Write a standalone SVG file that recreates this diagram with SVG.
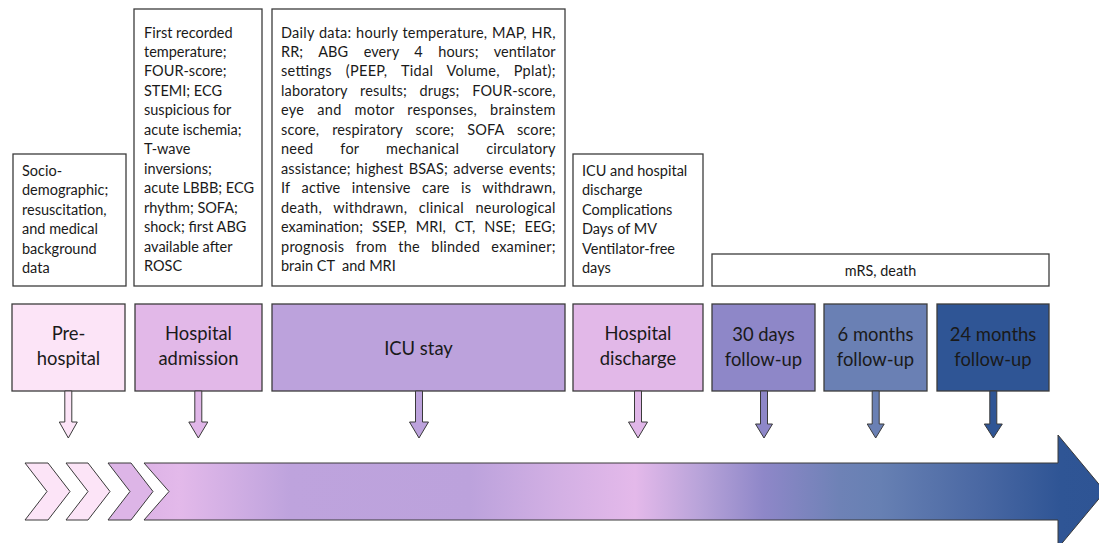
<svg xmlns="http://www.w3.org/2000/svg" width="1099" height="543" viewBox="0 0 1099 543">
<defs>
<style>
.tb{fill:#ffffff;stroke:#3c3c3c;stroke-width:1.3}
.ph{stroke:#3c3c3c;stroke-width:1.3}
.t{font-family:Lato,"Liberation Sans",Arial,sans-serif;font-size:14.5px;fill:#1a1a1a}
.lb{font-family:Lato,"Liberation Sans",Arial,sans-serif;font-size:18.4px;fill:#1a1a1a;text-anchor:middle}
.ar{stroke:#3a3a3a;stroke-width:1}
.tl{stroke:#3a3a3a;stroke-width:1}
</style>
<linearGradient id="tlg" gradientUnits="userSpaceOnUse" x1="144" y1="0" x2="1105" y2="0">
<stop offset="0" stop-color="#DDB3E6"/>
<stop offset="0.037" stop-color="#E3B9EA"/>
<stop offset="0.152" stop-color="#BEA3DD"/>
<stop offset="0.339" stop-color="#BCA2DC"/>
<stop offset="0.433" stop-color="#D3B0E4"/>
<stop offset="0.511" stop-color="#E4B9EA"/>
<stop offset="0.579" stop-color="#B8A3D9"/>
<stop offset="0.645" stop-color="#8E87C8"/>
<stop offset="0.724" stop-color="#6E82B6"/>
<stop offset="0.766" stop-color="#6780B3"/>
<stop offset="0.870" stop-color="#4A68A3"/>
<stop offset="0.953" stop-color="#2F5595"/>
<stop offset="1" stop-color="#2E5494"/>
</linearGradient>
</defs>

<!-- timeline -->
<g id="timeline">
<polygon class="tl" fill="#FCE4F7" points="25,463 48,463 70,491.5 48,520 25,520 47,491.5"/>
<polygon class="tl" fill="#FCE4F7" points="66,463 88,463 110,491.5 88,520 66,520 88,491.5"/>
<polygon class="tl" fill="#DDB5E7" points="108,463 131,463 153,491.5 131,520 108,520 130,491.5"/>
<polygon class="tl" fill="url(#tlg)" points="144,463 1058,463 1058,435 1105,491.5 1058,548 1058,520 144,520 169,491.5"/>
</g>

<!-- data boxes -->
<g id="box-socio">
<rect class="tb" x="13" y="154" width="113" height="132"/>
<text class="t"><tspan x="22" y="176">Socio-</tspan><tspan x="22" y="195.4">demographic;</tspan><tspan x="22" y="214.8">resuscitation,</tspan><tspan x="22" y="234.2">and medical</tspan><tspan x="22" y="253.6">background</tspan><tspan x="22" y="273">data</tspan></text>
</g>
<g id="box-admission-data">
<rect class="tb" x="134" y="9" width="128" height="277"/>
<text class="t"><tspan x="144" y="37.5">First recorded</tspan><tspan x="144" y="57">temperature;</tspan><tspan x="144" y="76.4">FOUR-score;</tspan><tspan x="144" y="95.9">STEMI; ECG</tspan><tspan x="144" y="115.3">suspicious for</tspan><tspan x="144" y="134.8">acute ischemia;</tspan><tspan x="144" y="154.3">T-wave</tspan><tspan x="144" y="173.7">inversions;</tspan><tspan x="144" y="193.2">acute LBBB; ECG</tspan><tspan x="144" y="212.6">rhythm; SOFA;</tspan><tspan x="144" y="232.1">shock; first ABG</tspan><tspan x="144" y="251.6">available after</tspan><tspan x="144" y="271">ROSC</tspan></text>
</g>
<g id="box-icu-data">
<rect class="tb" x="272" y="9" width="293" height="277"/>
<g class="t">
<text x="281" y="37.5" textLength="274.5" lengthAdjust="spacing" style="word-spacing:0.7px">Daily data: hourly temperature, MAP, HR,</text>
<text x="281" y="57" textLength="274.5" lengthAdjust="spacing" style="word-spacing:11.6px">RR; ABG every 4 hours; ventilator</text>
<text x="281" y="76.4" textLength="274.5" lengthAdjust="spacing" style="word-spacing:10px">settings (PEEP, Tidal Volume, Pplat);</text>
<text x="281" y="95.9" textLength="274.5" lengthAdjust="spacing" style="word-spacing:8.9px">laboratory results; drugs; FOUR-score,</text>
<text x="281" y="115.3" textLength="274.5" lengthAdjust="spacing" style="word-spacing:9px">eye and motor responses, brainstem</text>
<text x="281" y="134.8" textLength="274.5" lengthAdjust="spacing" style="word-spacing:9px">score, respiratory score; SOFA score;</text>
<text x="281" y="154.3" textLength="274.5" lengthAdjust="spacing" style="word-spacing:23px">need for mechanical circulatory</text>
<text x="281" y="173.7" textLength="274.5" lengthAdjust="spacing" style="word-spacing:1.6px">assistance; highest BSAS; adverse events;</text>
<text x="281" y="193.2" textLength="274.5" lengthAdjust="spacing" style="word-spacing:7.5px">If active intensive care is withdrawn,</text>
<text x="281" y="212.6" textLength="274.5" lengthAdjust="spacing" style="word-spacing:7.7px">death, withdrawn, clinical neurological</text>
<text x="281" y="232.1" textLength="274.5" lengthAdjust="spacing" style="word-spacing:5.2px">examination; SSEP, MRI, CT, NSE; EEG;</text>
<text x="281" y="251.6" textLength="274.5" lengthAdjust="spacing" style="word-spacing:7.4px">prognosis from the blinded examiner;</text>
<text x="281" y="271" xml:space="preserve">brain CT  and MRI</text>
</g>
</g>
<g id="box-discharge-data">
<rect class="tb" x="573" y="154" width="130" height="132"/>
<text class="t"><tspan x="582" y="176">ICU and hospital</tspan><tspan x="582" y="195.4">discharge</tspan><tspan x="582" y="214.8">Complications</tspan><tspan x="582" y="234.2">Days of MV</tspan><tspan x="582" y="253.6">Ventilator-free</tspan><tspan x="582" y="273">days</tspan></text>
</g>
<g id="box-followup-data">
<rect class="tb" x="712" y="254" width="337" height="32"/>
<text class="t" x="880.5" y="275.5" text-anchor="middle" style="font-size:14.4px">mRS, death</text>
</g>

<!-- phase boxes -->
<g id="phase-prehospital">
<rect class="ph" x="12" y="304" width="113" height="87" fill="#FCE4F7"/>
<text class="lb"><tspan x="68.5" y="340">Pre-</tspan><tspan x="68.5" y="365">hospital</tspan></text>
</g>
<g id="phase-admission">
<rect class="ph" x="135" y="304" width="127" height="87" fill="#E2B8E8"/>
<text class="lb"><tspan x="198.5" y="340">Hospital</tspan><tspan x="198.5" y="365">admission</tspan></text>
</g>
<g id="phase-icu">
<rect class="ph" x="272" y="304" width="293" height="87" fill="#BCA2DC"/>
<text class="lb" x="418.5" y="355">ICU stay</text>
</g>
<g id="phase-discharge">
<rect class="ph" x="573" y="304" width="130" height="87" fill="#E2B8E8"/>
<text class="lb"><tspan x="638" y="340">Hospital</tspan><tspan x="638" y="365">discharge</tspan></text>
</g>
<g id="phase-30days">
<rect class="ph" x="712" y="304" width="103" height="87" fill="#8E87C8"/>
<text class="lb"><tspan x="763.5" y="341">30 days</tspan><tspan x="763.5" y="366">follow-up</tspan></text>
</g>
<g id="phase-6months">
<rect class="ph" x="824" y="304" width="103" height="87" fill="#6A80B4"/>
<text class="lb"><tspan x="875.5" y="341">6 months</tspan><tspan x="875.5" y="366">follow-up</tspan></text>
</g>
<g id="phase-24months">
<rect class="ph" x="937" y="304" width="112" height="87" fill="#2F5595"/>
<text class="lb"><tspan x="993" y="341">24 months</tspan><tspan x="993" y="366">follow-up</tspan></text>
</g>

<!-- connectors -->
<g id="connectors">
<polygon class="ar" fill="#FCE4F7" points="64.8,391 71.8,391 71.8,422 77.3,422 68.3,438 59.3,422 64.8,422"/>
<polygon class="ar" fill="#E0B6E8" points="194.8,391 201.8,391 201.8,422 207.8,422 198.3,438 188.8,422 194.8,422"/>
<polygon class="ar" fill="#BCA2DC" points="415.5,391 422.5,391 422.5,422 428.5,422 419,438 409.5,422 415.5,422"/>
<polygon class="ar" fill="#E0B6E8" points="634.5,391 641.5,391 641.5,422 647.5,422 638,438 628.5,422 634.5,422"/>
<polygon class="ar" fill="#8E87C8" points="760.5,391 767.5,391 767.5,424 772.5,424 764,438 755.5,424 760.5,424"/>
<polygon class="ar" fill="#6A80B4" points="872.2,391 879.2,391 879.2,424 884.2,424 875.7,438 867.2,424 872.2,424"/>
<polygon class="ar" fill="#2F5595" points="989.8,391 996.8,391 996.8,424 1002.3,424 993.3,438 984.3,424 989.8,424"/>
</g>
</svg>
